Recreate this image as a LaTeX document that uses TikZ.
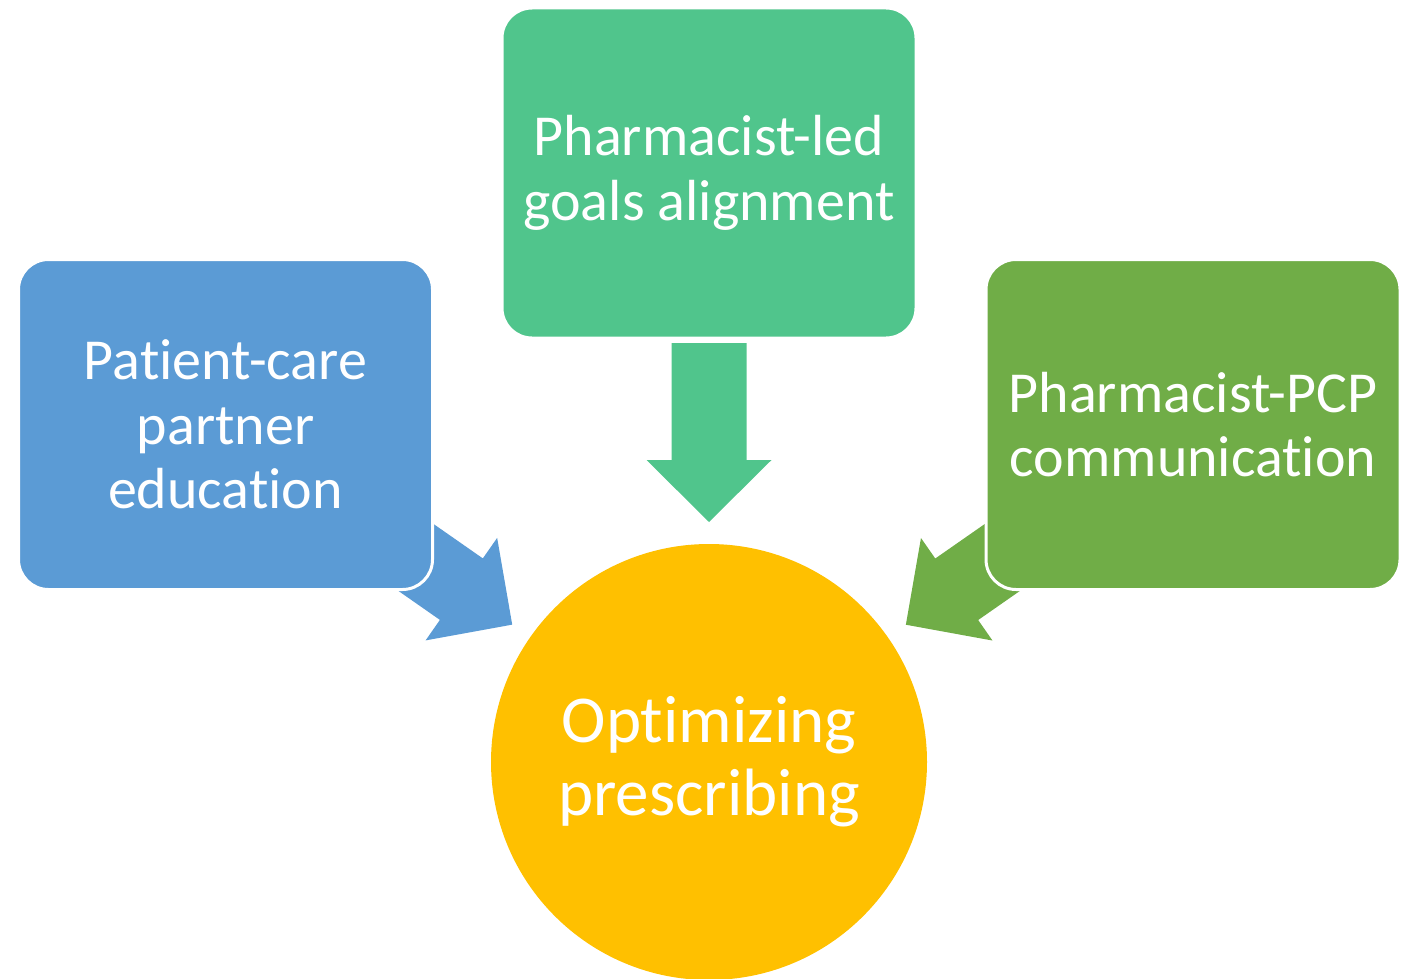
\documentclass[tikz,border=0pt]{standalone}
\usepackage{fontspec}
\setmainfont{Carlito}
\usepackage{tikz}
\usetikzlibrary{calc,backgrounds}

\definecolor{edublue}{HTML}{5B9BD5}
\definecolor{goalgreen}{RGB}{80,197,140}
\definecolor{commgreen}{HTML}{70AD47}
\definecolor{optyellow}{HTML}{FFC000}

% plain t followed by i, no joined glyph
\newcommand{\tsep}{t\kern0pt }

\tikzset{
  topic/.style={rectangle, rounded corners=30pt, minimum width=414pt, minimum height=330pt,
    inner sep=0pt, draw=white, line width=3pt, text=white, align=center,
    font=\fontsize{58}{64.5}\selectfont},
  goal/.style={circle, minimum size=436pt, inner sep=0pt, text=white, align=center,
    font=\fontsize{67}{73}\selectfont}
}

% block arrow from #1 towards the centre of #2
\newcommand{\feedarrow}[3]{%
  \fill[#3] ($(#2)!240pt!(#1)$)
    -- ($(#2)!302pt!(#1)!62.5pt!90:(#1)$)
    -- ($(#2)!302pt!(#1)!37.5pt!90:(#1)$)
    -- ($(#2)!419pt!(#1)!37.5pt!90:(#1)$)
    -- ($(#2)!419pt!(#1)!37.5pt!-90:(#1)$)
    -- ($(#2)!302pt!(#1)!37.5pt!-90:(#1)$)
    -- ($(#2)!302pt!(#1)!62.5pt!-90:(#1)$) -- cycle;}

\begin{document}
\begin{tikzpicture}[x=1pt,y=-1pt]
    \useasboundingbox (0,0) rectangle (1410,979);
    \node[topic, fill=edublue] (edu) at (225.5,424.5) {Pa\tsep ient-care\\partner\\educa\tsep ion};
    \node[topic, fill=goalgreen] (align) at (709,173) {Pharmacist-led\\goals alignment};
    \node[topic, fill=commgreen] (comm) at (1193,424.5) {Pharmacist-PCP\\communica\tsep ion};
    \node[goal, fill=optyellow] (opt) at (709,762) {Op\tsep imizing\\prescribing};
    \begin{scope}[on background layer]
        \feedarrow{edu}{opt}{edublue}
        \feedarrow{align}{opt}{goalgreen}
        \feedarrow{comm}{opt}{commgreen}
    \end{scope}
\end{tikzpicture}
\end{document}
